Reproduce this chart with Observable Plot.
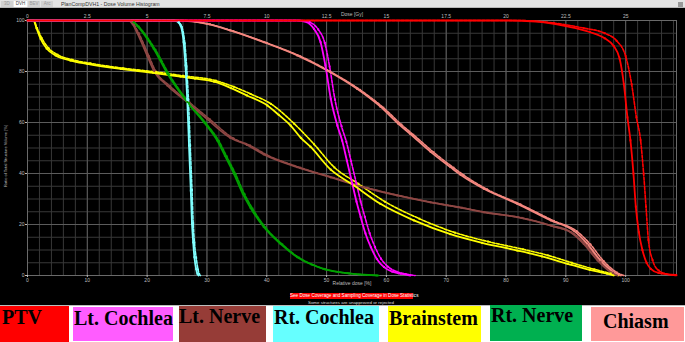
<!DOCTYPE html>
<html>
<head>
<meta charset="utf-8">
<script src="https://cdn.jsdelivr.net/npm/d3@7"></script>
<script src="https://cdn.jsdelivr.net/npm/@observablehq/plot@0.6"></script>
<style>
  html, body { margin: 0; padding: 0; background: #fff; }
  #page { position: relative; width: 685px; height: 342px; overflow: hidden; font-family: "Liberation Sans", Arial, sans-serif; }
  .abs { position: absolute; white-space: nowrap; }
  #topbar { left: 0; top: 0; width: 685px; height: 8px; background: #e4e4e4; border-bottom: 1px solid #b8b8b8; box-sizing: border-box; }
  .tab { position: absolute; top: 1px; height: 6px; font-size: 4.5px; line-height: 6px; color: #999; text-align: center; background: #d2d2d2; }
  #panel { left: 0; top: 8px; width: 685px; height: 297px; background: #000; }
  .legbox { position: absolute; font-family: "Liberation Serif", "Times New Roman", serif; font-weight: bold; font-size: 20px; color: #000; }
  .legbox span { position: absolute; white-space: nowrap; }
  #panel svg text { fill: #bdbdbd; }
</style>
</head>
<body>
<div id="page"></div>
<script>
// ---------- data ----------
const structures   = ["PTV", "Lt. Cochlea", "Lt. Nerve", "Rt. Cochlea", "Brainstem", "Rt. Nerve", "Chiasm"];
const lineColors   = ["#ff0000", "#ff00ff", "#8e4744", "#80ffff", "#ffff00", "#00a000", "#f4877f"];
const legendColors = ["#ff0000", "#ff5cff", "#963c37", "#66ffff", "#ffff00", "#00b050", "#ff9999"];

const xTicks = [0, 10, 20, 30, 40, 50, 60, 70, 80, 90, 100];
const yTicks = [0, 20, 40, 60, 80, 100];
const doseGy = [0, 2.5, 5, 7.5, 10, 12.5, 15, 17.5, 20, 22.5, 25];
const doseLabels = ["0", "2.5", "5", "7.5", "10", "12.5", "15", "17.5", "20", "22.5", "25"];
const prescriptionGy = 25;
const xLabel = "Relative dose [%]";
const topLabel = "Dose [Gy]";
const yLabel = "Ratio of Total Structure Volume [%]";

// relative dose [%], volume [%]  (solid = plan A, dashed = plan B)
const ptvA = [[0,100],[80,100],[85,99.6],[90,97.8],[94,95.5],[96.5,93],[98,90],[99,85],[99.7,75],[100.3,62],[100.8,53],[101.3,40],[101.7,27],[102.2,17],[102.8,10],[103.5,5],[104.2,2.6],[105.5,1],[108.5,0.2]];
const ptvB = [[0,100],[82,100],[88,99],[93,97],[96.5,95],[98.5,92],[100,86],[101,75],[101.8,62],[102.5,53],[103,40],[103.4,27],[103.8,14],[104.5,6],[105.5,2],[107,0.5],[108.5,0]];
const ltCochleaA = [[0,100],[45,100],[46.5,99.5],[47.9,96.7],[49,91.5],[49.8,82.4],[50.7,69.3],[51.8,58.8],[52.6,52.9],[53.4,45],[54.3,36],[55,29],[55.7,22.9],[56.5,16.5],[57.4,11.1],[58.4,6.5],[59.6,3.3],[61,1.5],[62.4,0.7],[64,0]];
const ltCochleaB = [[0,100],[45.6,100],[47.2,99.3],[48.6,96.5],[49.7,91.2],[50.5,82],[51.4,69],[52.5,58.5],[53.3,52.5],[54.1,44.8],[55,36],[55.7,29],[56.4,23],[57.2,16.6],[58.1,11.2],[59.1,6.6],[60.3,3.4],[61.7,1.5],[63.2,0.6],[64.8,0]];
const ltNerveA = [[0,100],[16.9,100],[17.6,98.5],[18.3,95.4],[20,86.3],[21.1,80.4],[23.4,74.5],[26.7,68],[30,61.4],[33.9,54],[36.7,51.2],[39.5,47.5],[45.1,42.5],[50.7,38.5],[56.2,34.6],[61.8,31.4],[67.4,28.7],[72,26.8],[76.3,24.8],[81.9,22.9],[87.5,19.6],[90.8,17],[93,12.4],[95.3,5.9],[97.5,1.3],[98.6,0]];
const ltNerveB = [[0,100],[17.1,100],[17.8,98.3],[18.6,95],[20.3,86],[21.4,80.2],[23.8,74.3],[27.1,67.8],[30.5,61.2],[34.4,53.8],[37.2,51],[40,47.3],[45.6,42.3],[51.2,38.3],[56.8,34.4],[62.4,31.2],[68,28.5],[72.6,26.6],[77,24.6],[82.6,22.6],[88,19.2],[91.3,16.4],[93.5,11.8],[95.8,5.4],[97.9,1.1],[99,0]];
const rtCochleaA = [[0,100],[24.5,100],[25.1,99.5],[25.6,98],[26.1,91.5],[26.4,82.4],[26.7,69.3],[27,51],[27.3,33.3],[27.5,20.3],[27.7,13],[27.9,7.2],[28.2,2.5],[28.4,0.7],[28.6,0]];
const rtCochleaB = [[0,100],[24.7,100],[25.3,99.3],[25.8,97.5],[26.3,91],[26.6,82],[26.9,69],[27.2,51],[27.5,33.5],[27.7,20.5],[27.9,13],[28.2,7],[28.5,2.4],[28.7,0.6],[28.9,0]];
const brainstemA = [[0,100],[1,100],[1.5,97],[2.2,92.8],[3.2,89],[4.7,86.3],[7.2,84.3],[10,83],[15.6,81],[21,79.5],[25.6,78],[28,77.2],[31.2,76],[34,73.5],[36.7,70.6],[40.1,66.7],[42,63],[44,58.8],[45.7,54],[47.3,50.5],[50.7,41.5],[54.6,35.3],[59,28.1],[64.6,21.6],[70.7,16.2],[76,12.8],[81.9,9.8],[86,7.5],[90.3,4.6],[94,2.2],[96.9,0.7],[98,0]];
const brainstemB = [[0,100],[1,100],[1.6,97],[2.4,93],[3.5,89.2],[5,86.6],[7.5,84.6],[10.5,83.2],[16,81.3],[21.5,79.8],[26,78.3],[31.5,76.4],[34.5,74],[37.3,71.2],[40.7,67.3],[44.6,59.5],[47.9,51.5],[51.3,42.4],[55.3,36],[59.8,28.9],[65.5,22.3],[71.5,16.8],[77,13.3],[82.8,10.3],[87,7.9],[91,5],[94.8,2.4],[97.5,0.8],[98.8,0]];
const rtNerveA = [[0,100],[17,100],[17.6,99.5],[18.3,98],[21.1,88.9],[23.4,79.1],[26.7,68],[29.5,60.1],[31.7,53],[33,47],[34.5,40],[36,32],[37.3,26.5],[39.5,19],[42.3,12.4],[45.1,7.2],[47.5,4.3],[49.5,2.6],[53.5,0.9],[58.5,0]];
const rtNerveB = [[0,100],[17.2,100],[17.8,99.3],[18.6,97.6],[21.4,88.5],[23.7,78.8],[27,67.7],[29.8,59.8],[32,52.7],[33.3,46.7],[34.8,39.7],[36.3,31.8],[37.6,26.3],[39.8,18.8],[42.6,12.2],[45.4,7],[47.8,4.1],[49.8,2.4],[53.8,0.8],[58.8,0]];
const chiasmA = [[0,100],[25,100],[30,98.7],[33.9,96.1],[39.5,91.5],[45.1,86.3],[50.1,80.4],[55.1,73.2],[59,66.2],[62,59.5],[64,55.5],[67.4,48.5],[70.7,42.5],[72.4,39.5],[76.3,34],[81.9,28.1],[87.5,21.6],[91.3,17.6],[93.6,12.4],[95.8,5.9],[98,1.3],[99.2,0]];
const chiasmB = [[0,100],[25.5,100],[30.5,98.5],[34.4,95.8],[40,91.2],[45.6,86],[50.6,80],[55.6,72.8],[59.5,65.8],[62.5,59.2],[64.5,55.2],[67.9,48.3],[71.2,42.3],[72.9,39.4],[76.8,33.8],[82.4,27.9],[88,21.4],[91.8,17.4],[94.1,12.2],[96.3,5.7],[98.5,1.2],[99.7,0]];

// ---------- build table ----------
const curves = {
  "PTV": [ptvA, ptvB], "Lt. Cochlea": [ltCochleaA, ltCochleaB], "Lt. Nerve": [ltNerveA, ltNerveB],
  "Rt. Cochlea": [rtCochleaA, rtCochleaB], "Brainstem": [brainstemA, brainstemB],
  "Rt. Nerve": [rtNerveA, rtNerveB], "Chiasm": [chiasmA, chiasmB]
};
const drawOrder = ["Chiasm", "Lt. Nerve", "Brainstem", "Rt. Nerve", "Rt. Cochlea", "Lt. Cochlea", "PTV"];
const rows = [];
drawOrder.forEach(s => curves[s].forEach((arr, v) => arr.forEach(([x, y]) => rows.push({structure: s, plan: v, key: s + v, x, y}))));

const minorX = d3.range(0, 109, 2);
const minorY = d3.range(0, 101, 5);

const chart = Plot.plot({
  width: 685, height: 297,
  marginTop: 12, marginBottom: 30, marginLeft: 27, marginRight: 9,
  style: { background: "#000", color: "#bdbdbd", fontFamily: "Liberation Sans, Arial, sans-serif", fontSize: "5px", overflow: "visible" },
  x: { domain: [0, 108.5], axis: null },
  y: { domain: [0, 100], axis: null },
  color: { domain: structures, range: lineColors },
  marks: [
    Plot.ruleX(minorX, { stroke: "#383838", strokeWidth: 1 }),
    Plot.ruleY(minorY, { stroke: "#383838", strokeWidth: 1 }),
    Plot.ruleX(xTicks, { stroke: "#5c5c5c", strokeWidth: 1 }),
    Plot.ruleY(yTicks, { stroke: "#5c5c5c", strokeWidth: 1 }),
    Plot.frame({ stroke: "#6a6a6a" }),
    Plot.axisX(xTicks, { anchor: "bottom", tickSize: 2, tickPadding: 1, fontSize: 5, label: null }),
    Plot.axisY(yTicks, { anchor: "left", tickSize: 2, tickPadding: 1, fontSize: 5, label: null }),
    Plot.axisX(doseGy.map(g => g * 100 / prescriptionGy), { anchor: "top", tickSize: 0, tickPadding: 3, fontSize: 5, label: null, tickFormat: (d, i) => doseLabels[i] }),
    Plot.text([topLabel], { frameAnchor: "top", dy: -8, fontSize: 5, textAnchor: "middle" }),
    Plot.text([xLabel], { frameAnchor: "bottom", dy: 9, fontSize: 5, textAnchor: "middle" }),
    Plot.text([yLabel], { frameAnchor: "left", dx: -22, dy: 8, rotate: -90, fontSize: 4, textAnchor: "middle" }),
    Plot.line(rows.filter(d => d.plan === 1), { x: "x", y: "y", z: "key", stroke: "structure", strokeWidth: 1.6, strokeDasharray: "3,1.5", curve: "monotone-x" }),
    Plot.line(rows.filter(d => d.plan === 0), { x: "x", y: "y", z: "key", stroke: "structure", strokeWidth: 1.8, curve: "monotone-x" }),
    Plot.dot(rows.filter(d => d.y > 0.5 && d.y < 99.5), { x: "x", y: "y", fill: "structure", symbol: "square", r: 1.1 })
  ]
});

// ---------- page layout ----------
const page = document.getElementById("page");
function add(html) { page.insertAdjacentHTML("beforeend", html); }

add('<div id="topbar" class="abs"></div>');
const bar = document.getElementById("topbar");
const tabs = [["3D", 1, 12, "#d2d2d2", "#9a9a9a"], ["DVH", 14, 13, "#ffffff", "#444"], ["BEV", 28, 12, "#d2d2d2", "#9a9a9a"], ["Arc", 41, 12, "#d2d2d2", "#9a9a9a"]];
tabs.forEach(([t, l, w, bg, c]) => bar.insertAdjacentHTML("beforeend", `<div class="tab" style="left:${l}px;width:${w}px;background:${bg};color:${c}">${t}</div>`));
bar.insertAdjacentHTML("beforeend", '<div class="abs" style="left:61px;top:1px;font-size:5.2px;line-height:6px;color:#333">PlanCompDVH1 - Dose Volume Histogram</div>');
bar.insertAdjacentHTML("beforeend", '<div class="abs" style="left:678px;top:1.5px;width:5px;height:5px;background:#999"></div>');

add('<div id="panel" class="abs"></div>');
document.getElementById("panel").appendChild(chart);

add('<div class="abs" style="left:290px;top:292.5px;width:123px;height:6px;background:#ff0000;color:#fff;font-size:4.6px;line-height:6px;text-align:center">See Dose Coverage and Sampling Coverage in Dose Statistics</div>');
add('<div class="abs" style="left:308px;top:300px;color:#ddd;font-size:4.4px;line-height:5px">Some structures are unapproved or rejected</div>');
add('<div class="abs" style="left:0;top:305px;width:685px;height:1px;background:#bdbdbd"></div>');

// legend boxes: [left, width, top, height, textLeft, textTop]
const legendLayout = [
  [0, 69, 305.5, 36.5, 2, 4],
  [73, 100, 307, 34, 1, 4],
  [179, 87, 305.5, 36, 0, 3],
  [273, 106, 306, 35.5, 1, 4],
  [388, 93, 305.5, 36.5, 1, 5],
  [490, 92, 305, 36, 1, 3],
  [591, 93, 306.5, 34.5, 12, 7]
];
structures.forEach((s, i) => {
  const [l, w, t, h, tl, tt] = legendLayout[i];
  add(`<div class="legbox" style="left:${l}px;width:${w}px;top:${t}px;height:${h}px;background:${legendColors[i]}"><span style="left:${tl}px;top:${tt - 4}px">${s}</span></div>`);
});
</script>
</body>
</html>
